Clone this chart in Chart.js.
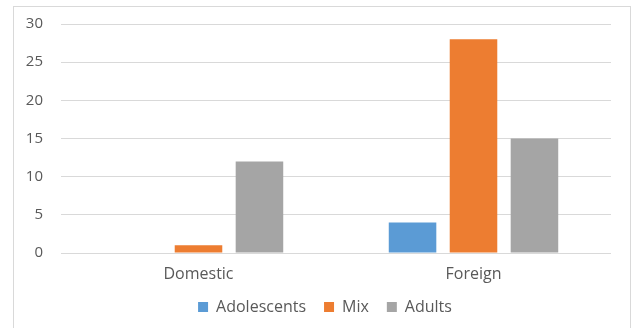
<!DOCTYPE html>
<html>
<head>
<meta charset="utf-8">
<script src="https://cdn.jsdelivr.net/npm/chart.js@4"></script>
<style>
  html, body { margin: 0; padding: 0; background: #ffffff; overflow: hidden; }
  #frame { position: absolute; left: 13px; top: 6px; width: 618px; height: 340px; box-sizing: border-box; border: 1px solid #d9d9d9; }
  #wrap { position: absolute; left: 0; top: 0; width: 635px; height: 328px; }
</style>
</head>
<body>
<div id="frame"></div>
<div id="wrap"><canvas id="c" width="635" height="328"></canvas></div>
<script>
const categories = ["Domestic", "Foreign"];
const seriesNames = ["Adolescents", "Mix", "Adults"];
const adolescents = [0, 4];
const mix = [1, 28];
const adults = [12, 15];
const yTicks = [0, 5, 10, 15, 20, 25, 30];

const colors = ["#5B9BD5", "#ED7D31", "#A5A5A5"];
const FONT = "'Open Sans', sans-serif";

// Legend: shrink its reserved height, then place and centre it like the original
const legendTweak = {
  id: "legendTweak",
  beforeUpdate(chart) {
    const lg = chart.legend;
    if (lg && !lg._tweaked) {
      const origFit = lg.fit.bind(lg);
      lg.fit = function () { origFit(); this.height -= 10; };
      lg._tweaked = true;
    }
  },
  afterLayout(chart) {
    const lg = chart.legend;
    if (lg) {
      lg.left += 39;
      lg.top -= 8;
      lg.bottom -= 8;
    }
  }
};

new Chart(document.getElementById("c"), {
  type: "bar",
  data: {
    labels: categories,
    datasets: [
      { label: seriesNames[0], data: adolescents, backgroundColor: colors[0] },
      { label: seriesNames[1], data: mix, backgroundColor: colors[1] },
      { label: seriesNames[2], data: adults, backgroundColor: colors[2] }
    ]
  },
  plugins: [legendTweak],
  options: {
    responsive: false,
    animation: false,
    devicePixelRatio: 1,
    layout: { autoPadding: false, padding: { left: 0, right: 24, top: 24, bottom: 5 } },
    datasets: { bar: { categoryPercentage: 0.665, barPercentage: 0.78, borderWidth: 0 } },
    plugins: {
      legend: {
        position: "bottom",
        labels: {
          boxWidth: 10, boxHeight: 10, padding: 18,
          color: "#595959",
          font: { family: FONT, size: 16 }
        }
      },
      tooltip: { enabled: false }
    },
    scales: {
      x: {
        afterFit: (s) => { s.height = 36; },
        grid: { display: false, drawTicks: false },
        border: { display: false },
        ticks: { color: "#595959", padding: 12, font: { family: FONT, size: 16 } }
      },
      y: {
        min: 0, max: 30,
        afterFit: (s) => { s.width = 61; s.paddingTop = 0; s.paddingBottom = 0; },
        afterBuildTicks: (s) => { s.ticks = yTicks.map(v => ({ value: v })); },
        grid: { color: "#d9d9d9", lineWidth: 1, drawTicks: false },
        border: { display: false },
        ticks: { color: "#595959", padding: 18, font: { family: FONT, size: 15 } }
      }
    }
  }
});
</script>
</body>
</html>
